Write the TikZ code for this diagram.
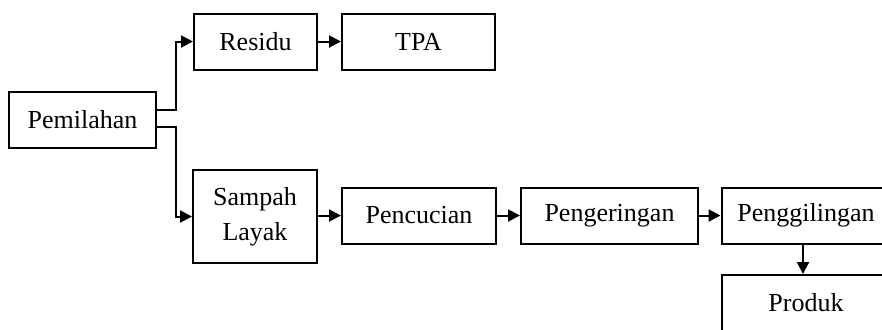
\documentclass[tikz,border=0pt]{standalone}
\usepackage{fontspec}
\setmainfont{Liberation Serif}
\usetikzlibrary{arrows.meta}

\tikzset{
  box/.style={draw, line width=1pt, minimum height=28pt, inner sep=0pt, align=center, font=\fontsize{13}{17.5}\selectfont},
  flow/.style={-{Triangle[length=6pt,width=6pt]}, line width=1pt}
}

\begin{document}
\begin{tikzpicture}[x=0.5pt, y=-0.5pt]
   \useasboundingbox (0,0) rectangle (882,329);
   \clip (0,0) rectangle (882,329);

   \node [box, minimum width=73.5pt] (pemilahan) at (82.5,120) {Pemilahan};
   \node [box, minimum width=61.5pt] (residu) at (255.5,41.5) {Residu};
   \node [box, minimum width=76.5pt] (tpa) at (418.5,41.5) {TPA};
   \node [box, minimum width=62pt, minimum height=46.5pt] (sampah) at (255,216.5) {Sampah\\Layak};
   \node [box, minimum width=77pt] (pencucian) at (419,215.5) {Pencucian};
   \node [box, minimum width=88.5pt] (pengeringan) at (609.5,215.5) {Pengeringan};
   \node [box, minimum width=84.5pt] (penggilingan) at (806,215.5) {Penggilingan};
   \node [box, minimum width=84.5pt] (produk) at (806,303) {Produk};

   % branches out of the sorting step
   \draw [flow] (pemilahan.east) ++(0,-10) -- ++(19,0) |- (residu.west);
   \draw [flow] (pemilahan.east) ++(0,7) -- ++(19,0) |- (sampah.west);

   \draw [flow] (residu) -- (tpa);
   \draw [flow] (sampah.east |- pencucian) -- (pencucian.west);
   \draw [flow] (pencucian) -- (pengeringan);
   \draw [flow] (pengeringan) -- (penggilingan);
   \draw [flow] ([xshift=-1.5pt]penggilingan.south) -- ([xshift=-1.5pt]produk.north);
\end{tikzpicture}
\end{document}
